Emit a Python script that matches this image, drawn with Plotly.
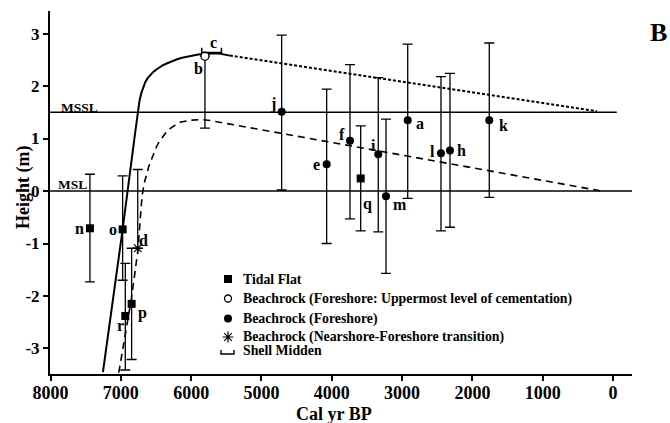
import plotly.graph_objects as go

# ---------------- data ----------------
# Tidal flat samples
tf_labels = ["n", "o", "p", "r", "q"]
tf_age = [7440, 6975, 6847, 6937, 3589]
tf_h = [-0.71, -0.73, -2.15, -2.38, 0.24]
tf_top = [0.32, 0.29, -1.09, -1.38, 1.24]
tf_bot = [-1.73, -1.70, -3.21, -3.41, -0.76]

# Beachrock foreshore (filled circles)
bf_labels = ["j", "e", "f", "i", "m", "a", "l", "h", "k"]
bf_age = [4713, 4073, 3741, 3339, 3229, 2920, 2447, 2319, 1760]
bf_h = [1.51, 0.51, 0.96, 0.70, -0.10, 1.35, 0.72, 0.77, 1.35]
bf_top = [2.97, 1.94, 2.41, 2.16, 1.37, 2.80, 2.18, 2.24, 2.82]
bf_bot = [0.02, -1.00, -0.53, -0.78, -1.57, -0.14, -0.76, -0.69, -0.12]

# Beachrock uppermost level of cementation (open circle)
bu_labels = ["b"]
bu_age = [5804]
bu_h = [2.57]
bu_top = [2.57]
bu_bot = [1.20]

# Beachrock nearshore-foreshore transition (asterisk)
bn_labels = ["d"]
bn_age = [6760]
bn_h = [-1.09]
bn_top = [0.41]
bn_bot = [-1.09]

# Shell midden (age range)
sm_label = "c"
sm_age_old = 5850
sm_age_young = 5570
sm_h = 2.64

# Sea-level curves
solid_age = [7255, 6975, 6800, 6762, 6735, 6710, 6686, 6655, 6620, 6580, 6539, 6490, 6450, 6400,
             6349, 6280, 6200, 6130, 6064, 5980, 5900, 5820, 5750, 5670, 5600, 5520, 5450]
solid_h = [-3.45, -0.73, 1.08, 1.50, 1.72, 1.86, 1.97, 2.07, 2.15, 2.22, 2.27, 2.32, 2.36, 2.40,
           2.43, 2.47, 2.51, 2.54, 2.56, 2.58, 2.60, 2.61, 2.62, 2.625, 2.62, 2.60, 2.58]
dotted_age = [5450, 230]
dotted_h = [2.58, 1.52]
dashed_age = [7030, 6990, 6950, 6900, 6850, 6800, 6755, 6725, 6700, 6670, 6633, 6600, 6562, 6530,
              6491, 6450, 6400, 6349, 6300, 6250, 6200, 6159, 6100, 6050, 5990, 5922, 5850, 5760, 160]
dashed_h = [-3.46, -3.15, -2.85, -2.50, -2.05, -1.55, -1.10, -0.55, -0.12, 0.14, 0.34, 0.48, 0.61, 0.73,
            0.85, 0.95, 1.05, 1.13, 1.19, 1.24, 1.28, 1.31, 1.33, 1.34, 1.35, 1.355, 1.36, 1.35, 0.00]

mssl_h = 1.5
msl_h = 0.0

x_ticks = [8000, 7000, 6000, 5000, 4000, 3000, 2000, 1000, 0]
y_ticks = [-3, -2, -1, 0, 1, 2, 3]

legend_names = ["Tidal Flat",
                "Beachrock (Foreshore: Uppermost level of cementation)",
                "Beachrock (Foreshore)",
                "Beachrock (Nearshore-Foreshore transition)",
                "Shell Midden"]

# label offsets (pixels) for point letters
label_shift = {
    "n": (-10, 0), "o": (-10, 0), "p": (11, -9), "r": (-5, -10), "q": (7, -26),
    "j": (-9, 8), "e": (-10, 0), "f": (-8, 6), "i": (-5, 9), "m": (14, -8),
    "a": (12, -3), "l": (-8, 2), "h": (12, 0), "k": (14, -5),
    "b": (-6, -12), "d": (6, 8), "c": (2, 10),
}

SERIF = "Liberation Serif"
BLACK = "black"

# plot-area geometry in page pixels (for placing page-level text)
L, R, T, B = 50, 38, 11, 49
W, H = 670, 423
PW, PH = W - L - R, H - T - B


def px(xp, yp):
    return (xp - L) / PW, (H - B - yp) / PH


fig = go.Figure()


def err(h, top, bot):
    return dict(type="data", symmetric=False,
                array=[t - v for t, v in zip(top, h)],
                arrayminus=[v - b for v, b in zip(h, bot)],
                color=BLACK, thickness=1.3, width=5)


# curves
fig.add_trace(go.Scatter(x=solid_age, y=solid_h, mode="lines",
                         line=dict(color=BLACK, width=2),
                         showlegend=False, hoverinfo="skip"))
fig.add_trace(go.Scatter(x=dotted_age, y=dotted_h, mode="lines",
                         line=dict(color=BLACK, width=2, dash="3px,2px"),
                         showlegend=False, hoverinfo="skip"))
fig.add_trace(go.Scatter(x=dashed_age, y=dashed_h, mode="lines",
                         line=dict(color=BLACK, width=1.6, dash="7px,5px"),
                         showlegend=False, hoverinfo="skip"))

# points
fig.add_trace(go.Scatter(x=tf_age, y=tf_h, mode="markers",
                         marker=dict(symbol="square", size=8, color=BLACK),
                         error_y=err(tf_h, tf_top, tf_bot), showlegend=False))
fig.add_trace(go.Scatter(x=bf_age, y=bf_h, mode="markers",
                         marker=dict(symbol="circle", size=8, color=BLACK),
                         error_y=err(bf_h, bf_top, bf_bot), showlegend=False))
fig.add_trace(go.Scatter(x=bn_age, y=bn_h, mode="markers",
                         marker=dict(symbol="asterisk-open", size=9, color=BLACK,
                                     line=dict(color=BLACK, width=1.2)),
                         error_y=err(bn_h, bn_top, bn_bot), showlegend=False))
fig.add_trace(go.Scatter(x=bu_age, y=bu_h, mode="markers",
                         marker=dict(symbol="circle", size=8, color="white",
                                     line=dict(color=BLACK, width=1.3)),
                         error_y=err(bu_h, bu_top, bu_bot), showlegend=False))

# shell midden bracket
cap = 0.09
fig.add_trace(go.Scatter(x=[sm_age_old, sm_age_old, sm_age_young, sm_age_young],
                         y=[sm_h + cap, sm_h, sm_h, sm_h + cap], mode="lines",
                         line=dict(color=BLACK, width=1.5), showlegend=False, hoverinfo="skip"))

# MSSL / MSL reference lines
fig.add_shape(type="line", xref="x", yref="y", x0=8008, x1=-53, y0=mssl_h, y1=mssl_h,
              line=dict(color=BLACK, width=1.6))
fig.add_shape(type="line", xref="x", yref="y", x0=8008, x1=-270, y0=msl_h, y1=msl_h,
              line=dict(color=BLACK, width=1.6))

annotations = []
# point labels
for labs, ages, hs in [(tf_labels, tf_age, tf_h), (bf_labels, bf_age, bf_h),
                       (bu_labels, bu_age, bu_h), (bn_labels, bn_age, bn_h)]:
    for lab, a, h in zip(labs, ages, hs):
        dx, dy = label_shift[lab]
        annotations.append(dict(x=a, y=h, xref="x", yref="y", text="<b>" + lab + "</b>",
                                showarrow=False, xshift=dx, yshift=dy,
                                xanchor="center", yanchor="middle",
                                font=dict(family=SERIF, size=16, color=BLACK)))
dx, dy = label_shift[sm_label]
annotations.append(dict(x=(sm_age_old + sm_age_young) / 2, y=sm_h, xref="x", yref="y",
                        text="<b>" + sm_label + "</b>", showarrow=False, xshift=dx, yshift=dy,
                        xanchor="center", yanchor="middle",
                        font=dict(family=SERIF, size=16, color=BLACK)))


def page_text(xp, yp, text, size, xanchor="center", **kw):
    xx, yy = px(xp, yp)
    d = dict(x=xx, y=yy, xref="paper", yref="paper", text=text, showarrow=False,
             xanchor=xanchor, yanchor="middle",
             font=dict(family=SERIF, size=size, color=BLACK))
    d.update(kw)
    annotations.append(d)


# MSSL / MSL labels
page_text(79, 107, "<b>MSSL</b>", 13.5)
page_text(72, 184, "<b>MSL</b>", 13.5)

# legend text
leg_y = [279, 298.5, 318.5, 337, 350]
for name, yy in zip(legend_names, leg_y):
    page_text(241, yy, "<b>" + name + "</b>", 13.8, xanchor="left")

# panel letter and axis titles
page_text(658, 33, "<b>B</b>", 26)
page_text(334, 414, "<b>Cal yr BP</b>", 18)
page_text(23, 188, "<b>Height (m)</b>", 18, textangle=-90)

# legend symbols (pixel-space overlay axes)
fig.add_trace(go.Scatter(x=[228], y=[279], xaxis="x2", yaxis="y2", mode="markers",
                         marker=dict(symbol="square", size=8, color=BLACK), showlegend=False))
fig.add_trace(go.Scatter(x=[228], y=[298.5], xaxis="x2", yaxis="y2", mode="markers",
                         marker=dict(symbol="circle", size=7, color="white", line=dict(color=BLACK, width=1.3)),
                         showlegend=False))
fig.add_trace(go.Scatter(x=[228], y=[318.5], xaxis="x2", yaxis="y2", mode="markers",
                         marker=dict(symbol="circle", size=8, color=BLACK), showlegend=False))
fig.add_trace(go.Scatter(x=[228], y=[337], xaxis="x2", yaxis="y2", mode="markers",
                         marker=dict(symbol="asterisk-open", size=9, color=BLACK, line=dict(color=BLACK, width=1.2)),
                         showlegend=False))
fig.add_trace(go.Scatter(x=[221, 221, 234, 234], y=[350, 354, 354, 350], xaxis="x2", yaxis="y2", mode="lines",
                         line=dict(color=BLACK, width=1.4), showlegend=False))

fig.update_layout(
    width=W, height=H,
    margin=dict(l=L, r=R, t=T, b=B),
    paper_bgcolor="white", plot_bgcolor="white",
    showlegend=False,
    annotations=annotations,
    xaxis=dict(range=[8008, -270], tickvals=x_ticks, ticktext=[str(v) for v in x_ticks],
               showgrid=False, zeroline=False, showline=True, linecolor=BLACK, linewidth=2,
               ticks="outside", ticklen=5, tickwidth=1.5, tickcolor=BLACK, ticklabelstandoff=-4,
               tickfont=dict(family=SERIF, size=18, color=BLACK, weight="bold")),
    yaxis=dict(range=[-3.486, 3.43], tickvals=y_ticks, ticktext=[str(v) for v in y_ticks],
               showgrid=False, zeroline=False, showline=True, linecolor=BLACK, linewidth=2,
               ticks="outside", ticklen=5, tickwidth=1.5, tickcolor=BLACK,
               tickfont=dict(family=SERIF, size=17, color=BLACK, weight="bold")),
    xaxis2=dict(overlaying="x", range=[L, W - R], visible=False, anchor="y2"),
    yaxis2=dict(overlaying="y", range=[H - B, T], visible=False, anchor="x2"),
)

fig.write_html("out.html")
